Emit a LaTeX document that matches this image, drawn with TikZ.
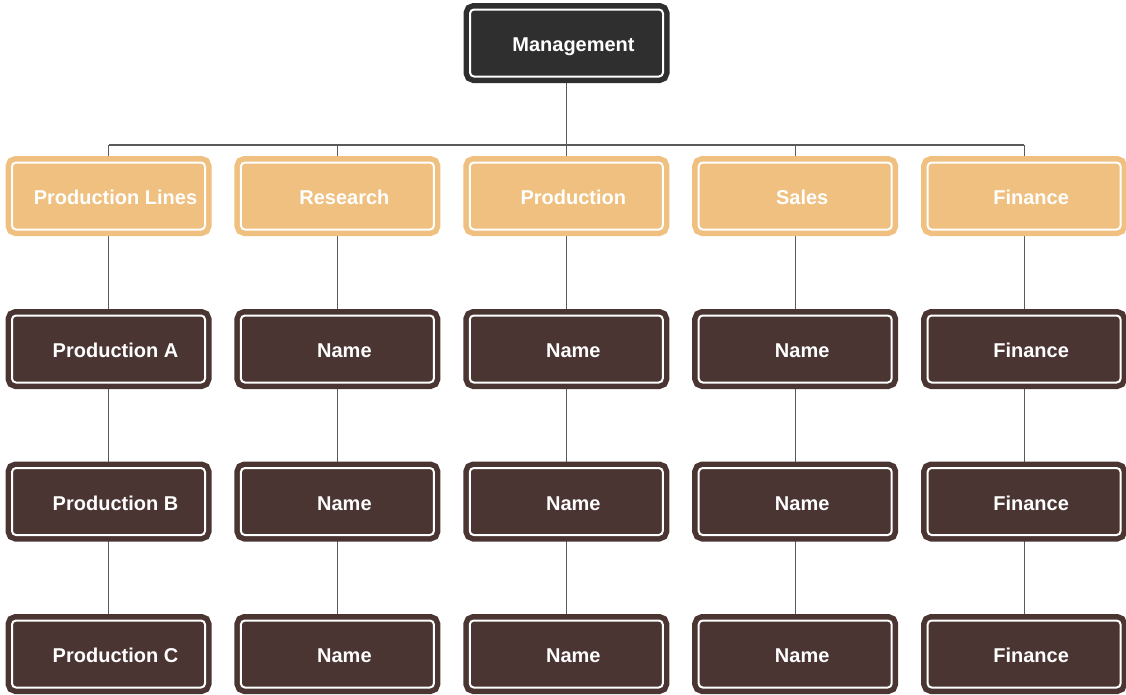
\documentclass[tikz,border=0pt]{standalone}
\usepackage{fontspec}
\setmainfont{Liberation Sans}
\usetikzlibrary{backgrounds}
\definecolor{headdark}{HTML}{2F2F2F}
\definecolor{deptorange}{HTML}{EFC07F}
\definecolor{staffbrown}{HTML}{4A3533}
\definecolor{linkgray}{HTML}{5A5A5A}
\begin{document}
\begin{tikzpicture}[x=1pt,y=-1pt,
  unit/.style={draw=#1, fill=#1, double=white, double distance=2pt,
    line width=5.5pt, rounded corners=4pt,
    minimum width=193pt, minimum height=67pt, inner sep=0pt,
    text height=17.5pt, text depth=0pt,
    text=white, font=\fontsize{20}{24}\selectfont\bfseries,
    execute at begin node={\hspace*{14pt}}},
  head/.style={unit=headdark},
  dept/.style={unit=deptorange},
  staff/.style={unit=staffbrown},
  link/.style={draw=linkgray, line width=1.2pt}]
\useasboundingbox (0,0) rectangle (1126,694);

% top of the chart
\node[head] (mgmt) at (566.5,43) {Management};

% departments
\node[dept] (d1) at (108.5,196) {Production Lines};
\node[dept] (d2) at (337.4,196) {Research};
\node[dept] (d3) at (566.3,196) {Production};
\node[dept] (d4) at (795.2,196) {Sales};
\node[dept] (d5) at (1024.1,196) {Finance};

% staff, three rows per department
\node[staff] (a1) at (108.5,349) {Production A};
\node[staff] (b1) at (108.5,501.5) {Production B};
\node[staff] (c1) at (108.5,654) {Production C};
\node[staff] (a2) at (337.4,349) {Name};
\node[staff] (b2) at (337.4,501.5) {Name};
\node[staff] (c2) at (337.4,654) {Name};
\node[staff] (a3) at (566.3,349) {Name};
\node[staff] (b3) at (566.3,501.5) {Name};
\node[staff] (c3) at (566.3,654) {Name};
\node[staff] (a4) at (795.2,349) {Name};
\node[staff] (b4) at (795.2,501.5) {Name};
\node[staff] (c4) at (795.2,654) {Name};
\node[staff] (a5) at (1024.1,349) {Finance};
\node[staff] (b5) at (1024.1,501.5) {Finance};
\node[staff] (c5) at (1024.1,654) {Finance};

\coordinate (bus) at (0,145);

\begin{scope}[on background layer]
  \draw[link] (mgmt.center) -- (mgmt.center |- bus);
  \draw[link] (d1.center |- bus) -- (d5.center |- bus);
  \foreach \i in {1,...,5} {
    \draw[link] (d\i.center |- bus) -- (d\i.center);
    \draw[link] (d\i.center) -- (a\i.center);
    \draw[link] (a\i.center) -- (b\i.center);
    \draw[link] (b\i.center) -- (c\i.center);
  }
\end{scope}
\end{tikzpicture}
\end{document}
